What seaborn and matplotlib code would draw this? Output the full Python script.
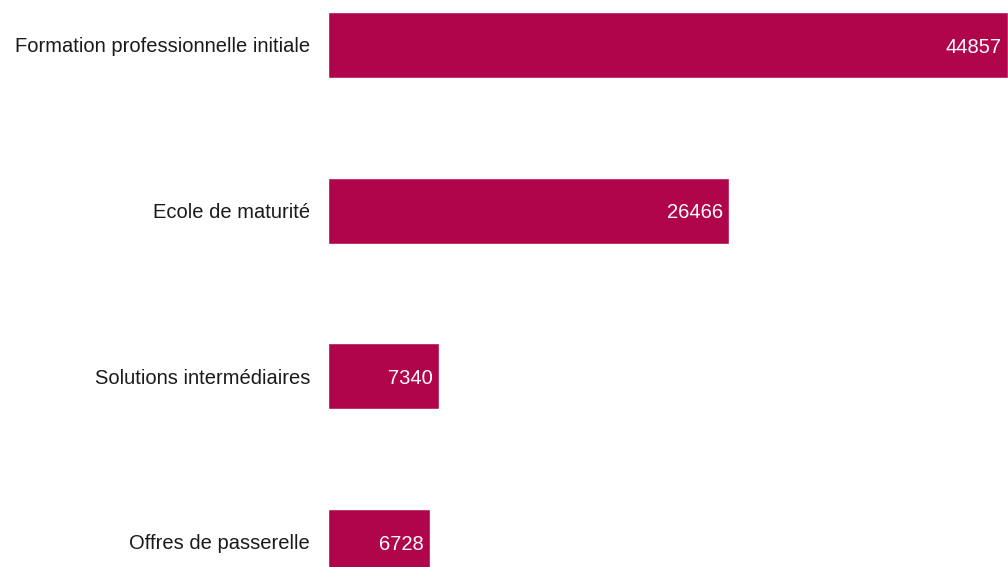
import matplotlib
matplotlib.use("Agg")
import matplotlib.pyplot as plt
import seaborn as sns
import pandas as pd

categories = ["Formation professionnelle initiale", "Ecole de maturité",
              "Solutions intermédiaires", "Offres de passerelle"]
values = [44857, 26466, 7340, 6728]

df = pd.DataFrame({"Categorie": categories, "Valeur": values})

sns.set_style("white")
plt.rcParams['font.family'] = ['Liberation Sans', 'DejaVu Sans']

fig = plt.figure(figsize=(10.08, 5.67), dpi=100)
ax = fig.add_axes([328 / 1008, 0, 680 / 1008, 1])

sns.barplot(ax=ax, data=df, x="Valeur", y="Categorie", orient="h",
            color="#B0054B", saturation=1, width=0.4)

ax.set_xlim(0, max(values))
ax.set_ylim(3.151, -0.2716)

# value labels inside the bar end
for i, v in enumerate(values):
    ax.annotate(str(v), xy=(v, i), xytext=(-4.5, -1.5), textcoords="offset points",
                ha="right", va="center", color="white", fontsize=14.5)

ax.set_xlabel("")
ax.set_ylabel("")
ax.set_xticks([])
ax.tick_params(axis="y", length=0, pad=13, labelsize=14.5, labelcolor="#1a1a1a")
sns.despine(ax=ax, left=True, bottom=True)

fig.savefig("out.png", dpi=100)
